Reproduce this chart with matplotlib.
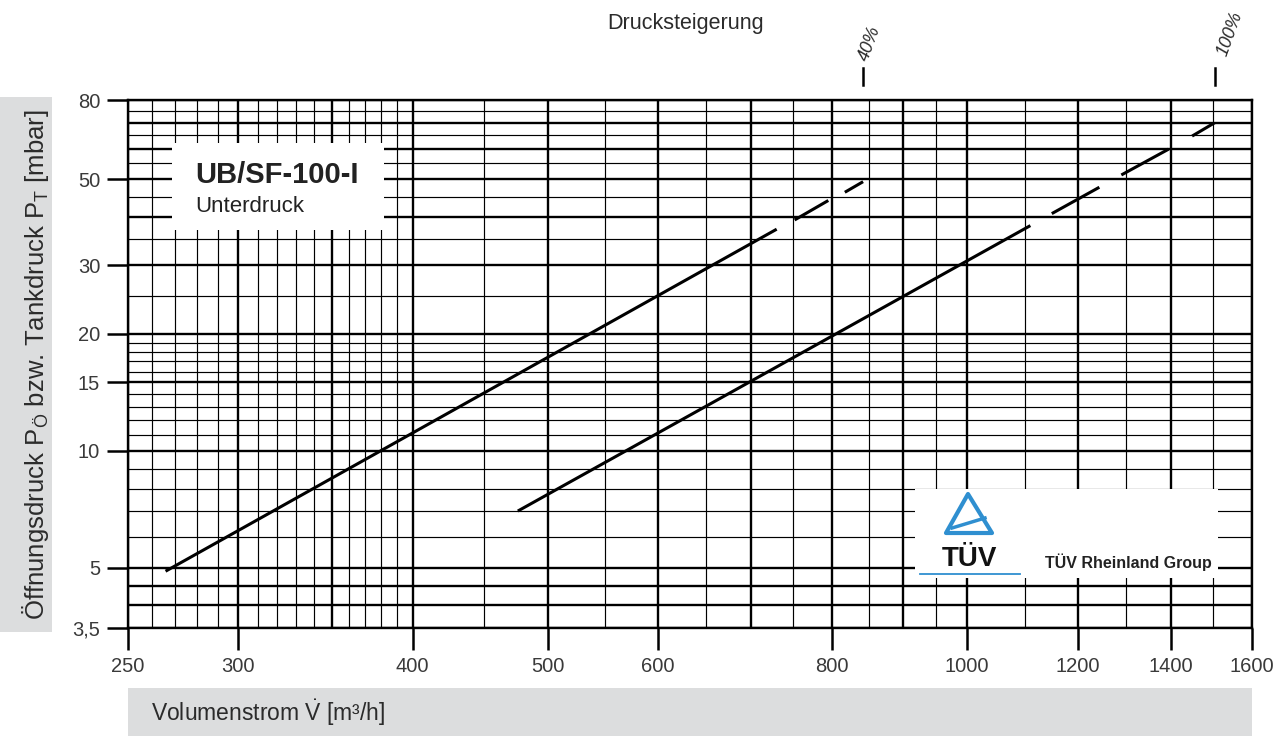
import matplotlib
matplotlib.use("Agg")
import matplotlib.pyplot as plt
from matplotlib.patches import Rectangle, Polygon
from matplotlib.lines import Line2D
from matplotlib.ticker import NullLocator
import matplotlib.transforms as mtransforms

plt.rcParams["font.family"] = ["Liberation Sans", "DejaVu Sans"]
plt.rcParams["mathtext.fontset"] = "custom"
plt.rcParams["mathtext.rm"] = "Liberation Sans"
plt.rcParams["mathtext.it"] = "Liberation Sans:italic"

# Rasterlinien (Volumenstrom in m³/h, Druck in mbar)
V_haupt = [250, 300, 350, 400, 500, 600, 700, 800, 900, 1000, 1200, 1400, 1600]
V_neben = [260, 270, 280, 290, 310, 320, 330, 340, 360, 370, 380, 390,
           450, 550, 650, 750, 850, 950, 1100, 1300, 1500]
p_haupt = [3.5, 4, 4.5, 5, 10, 15, 20, 30, 40, 50, 60, 70, 80]
p_neben = [6, 7, 8, 9, 11, 12, 13, 14, 16, 17, 18, 19, 25, 35, 45, 55, 65, 75]

x_ticks = [250, 300, 400, 500, 600, 800, 1000, 1200, 1400, 1600]
y_ticks = [3.5, 5, 10, 15, 20, 30, 50, 80]
y_labels = ["3,5", "5", "10", "15", "20", "30", "50", "80"]

# Kennlinien: Punktpaare = Segmente (erstes Segment durchgezogen, Rest gestrichelt)
kurve_40_V = [266, 730, 752, 795, 817, 842]
kurve_40_p = [4.9, 37.2, 39.3, 44.1, 46.3, 49.3]
kurve_100_V = [476, 1110, 1150, 1244, 1290, 1395, 1450, 1505]
kurve_100_p = [7.0, 38.0, 40.8, 47.7, 51.3, 59.8, 64.6, 69.9]

steigerung_V = [842, 1505]
steigerung_txt = ["40%", "100%"]

W, H = 1281, 736
def fx(px): return px / W
def fy(py): return 1 - py / H

fig = plt.figure(figsize=(W / 100, H / 100), dpi=100, facecolor="white")

# graue Bänder für die Achsentitel
fig.add_artist(Rectangle((0, fy(632)), fx(52), fy(97) - fy(632), transform=fig.transFigure,
                         facecolor="#dcddde", edgecolor="none", zorder=0))
fig.add_artist(Rectangle((fx(128), 0), fx(1252) - fx(128), fy(688), transform=fig.transFigure,
                         facecolor="#dcddde", edgecolor="none", zorder=0))

ax = fig.add_axes([fx(128), fy(628), fx(1251.7) - fx(128), fy(100) - fy(628)])
ax.set_xscale("log"); ax.set_yscale("log")
ax.set_xlim(250, 1600); ax.set_ylim(3.5, 80)

for v in V_haupt:
    ax.axvline(v, color="black", lw=1.7, zorder=1)
for v in V_neben:
    ax.axvline(v, color="black", lw=0.85, zorder=1)
for p in p_haupt:
    ax.axhline(p, color="black", lw=1.7, zorder=1)
for p in p_neben:
    ax.axhline(p, color="black", lw=0.85, zorder=1)

for sp in ax.spines.values():
    sp.set_linewidth(1.7)

ax.xaxis.set_minor_locator(NullLocator()); ax.yaxis.set_minor_locator(NullLocator())
ax.set_xticks(x_ticks); ax.set_xticklabels([str(v) for v in x_ticks])
ax.set_yticks(y_ticks); ax.set_yticklabels(y_labels)
ax.tick_params(axis="x", length=16, width=1.8, pad=5, labelsize=14.5, labelcolor="#3a3a3a")
ax.tick_params(axis="y", length=15, width=1.8, pad=5, labelsize=14.5, labelcolor="#3a3a3a")

for Vs, ps in ((kurve_40_V, kurve_40_p), (kurve_100_V, kurve_100_p)):
    for i in range(0, len(Vs), 2):
        ax.plot(Vs[i:i + 2], ps[i:i + 2], color="black", lw=2.2,
                solid_capstyle="butt", zorder=4)

# Drucksteigerung oben
trans = mtransforms.blended_transform_factory(ax.transData, ax.transAxes)
for v in steigerung_V:
    ax.add_line(Line2D([v, v], [1.028, 1.061], transform=trans, color="black",
                       lw=1.8, clip_on=False))
for v, t, yy, dx in zip(steigerung_V, steigerung_txt, (1.106, 1.125), (5, 11)):
    ax.annotate(t, xy=(v, yy), xycoords=trans, xytext=(dx, 0), textcoords="offset points",
                rotation=70, ha="center", va="center", fontsize=13, style="italic",
                color="#2b2b2b", annotation_clip=False)
fig.text(fx(686), fy(24), "Drucksteigerung", ha="center", va="center",
         fontsize=15.5, color="#2b2b2b")

# Typenkasten
fig.add_artist(Rectangle((fx(171.7), fy(230)), fx(384.3) - fx(171.7), fy(143.3) - fy(230),
                         transform=fig.transFigure, facecolor="white", edgecolor="none", zorder=1))
fig.text(fx(195), fy(183), "UB/SF-100-I", ha="left", va="baseline", fontsize=21,
         fontweight="bold", color="#222222", zorder=2)
fig.text(fx(195), fy(212), "Unterdruck", ha="left", va="baseline", fontsize=16,
         color="#222222", zorder=2)

# TÜV-Kasten
fig.add_artist(Rectangle((fx(915), fy(578)), fx(1218) - fx(915), fy(489) - fy(578),
                         transform=fig.transFigure, facecolor="white", edgecolor="none", zorder=1))
blau = "#2f8fd0"
fig.add_artist(Polygon([(fx(968), fy(494)), (fx(946), fy(533)), (fx(992), fy(533))],
                       closed=True, transform=fig.transFigure, facecolor="none",
                       edgecolor=blau, lw=3.0, joinstyle="round", zorder=2))
fig.add_artist(Line2D([fx(952), fx(985)], [fy(528), fy(518)], transform=fig.transFigure,
                      color=blau, lw=2.5, zorder=2))
fig.add_artist(Line2D([fx(920), fx(1020)], [fy(574), fy(574)], transform=fig.transFigure,
                      color=blau, lw=1.3, zorder=2))
fig.text(fx(969), fy(566), "TÜV", ha="center", va="baseline", fontsize=20,
         fontweight="bold", color="#111111", zorder=2)
fig.text(fx(1045), fy(568), "TÜV Rheinland Group", ha="left", va="baseline", fontsize=11.5,
         fontweight="bold", color="#222222", zorder=2)

# Achsentitel
fig.text(fx(36), fy(365), r"Öffnungsdruck P$_{\mathrm{Ö}}$ bzw. Tankdruck P$_{\mathrm{T}}$ [mbar]",
         rotation=90, ha="center", va="center", fontsize=18.5, color="#2b2b2b")
fig.text(fx(151), fy(713), r"Volumenstrom $\dot{\mathrm{V}}$ [m³/h]", ha="left", va="center",
         fontsize=16.5, color="#2b2b2b")

fig.savefig("out.png", dpi=100, facecolor="white")
